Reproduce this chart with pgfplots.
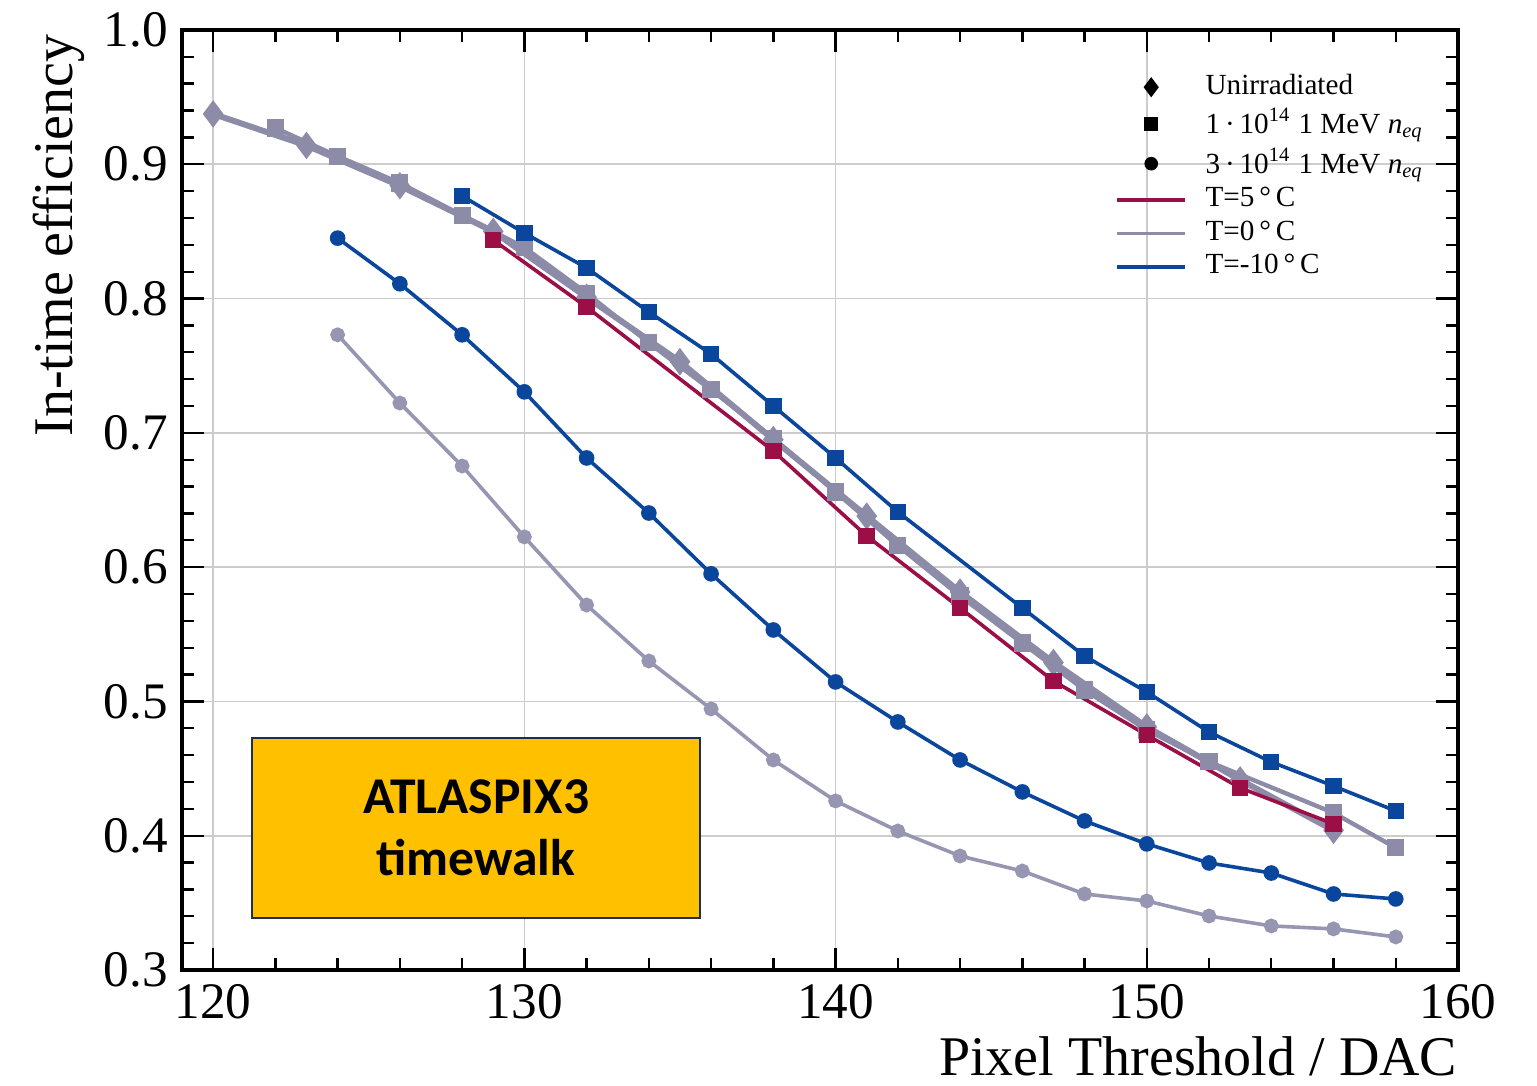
\documentclass[border=0pt]{standalone}
\usepackage{fontspec}
\setmainfont{Liberation Serif}
\newfontfamily\calibri{Carlito}
\usepackage{pgfplots}
\pgfplotsset{compat=1.18}

\definecolor{cred}{RGB}{155,15,70}
\definecolor{cgray}{RGB}{140,140,168}
\definecolor{clgray}{RGB}{150,150,178}
\definecolor{cblue}{RGB}{10,70,155}
\definecolor{boxfill}{RGB}{255,192,0}
\definecolor{boxline}{RGB}{31,45,80}

\begin{document}
\begin{tikzpicture}
\begin{axis}[
name=ax,
scale only axis,
width=319pt, height=235pt,
xmin=119, xmax=160,
ymin=0.3, ymax=1.0,
xtick={120,130,...,160},
ytick={0.3,0.4,...,1.0},
minor x tick num=4,
minor y tick num=4,
tick align=inside,
tick pos=both,
major tick length=5.5pt,
minor tick length=3pt,
every tick/.style={black, line width=0.6pt},
axis line style={black, line width=0.9pt},
grid=major,
major grid style={draw=black!20, line width=0.4pt},
tick label style={font=\fontsize{12.8}{14}\selectfont},
/pgf/number format/assume math mode=true,
yticklabel style={/pgf/number format/.cd, fixed, fixed zerofill, precision=1},
xticklabel style={/pgf/number format/.cd, fixed, precision=0},
legend cell align=left,
legend style={at={(rel axis cs:0.985,0.965)}, anchor=north east,
  draw=none, fill=none, font=\fontsize{7.3}{8}\selectfont,
  nodes={inner sep=0.6pt}, row sep=0.8pt,
  /tikz/every odd column/.append style={column sep=4pt}},
]
% legend entries
\addlegendimage{only marks, mark=diamond*, black, mark size=2.2pt}
\addlegendentry{Unirradiated}
\addlegendimage{only marks, mark=square*, black, mark size=1.5pt}
\addlegendentry{1\,·\,10\textsuperscript{14} 1 MeV \textit{n}\textsubscript{\textit{eq}}}
\addlegendimage{only marks, mark=*, black, mark size=1.5pt}
\addlegendentry{3\,·\,10\textsuperscript{14} 1 MeV \textit{n}\textsubscript{\textit{eq}}}
\addlegendimage{no markers, cred, line width=0.9pt}
\addlegendentry{T=5\,°\,C}
\addlegendimage{no markers, cgray, line width=0.9pt}
\addlegendentry{T=0\,°\,C}
\addlegendimage{no markers, cblue, line width=0.9pt}
\addlegendentry{T=-10\,°\,C}

% 3e14, T=0
\addplot[clgray, line width=0.9pt, mark=*, mark size=1.4pt, forget plot] coordinates {
(124,0.773) (126,0.7222) (128,0.6753) (130,0.6225) (132,0.5718) (134,0.5301)
(136,0.4944) (138,0.4564) (140,0.4259) (142,0.4035) (144,0.3849) (146,0.3737)
(148,0.3566) (150,0.3514) (152,0.3402) (154,0.3328) (156,0.3306) (158,0.3246)};
% 3e14, T=-10
\addplot[cblue, line width=0.9pt, mark=*, mark size=1.5pt, forget plot] coordinates {
(124,0.845) (126,0.811) (128,0.773) (130,0.7305) (132,0.6813) (134,0.6403)
(136,0.595) (138,0.5532) (140,0.5145) (142,0.4847) (144,0.4564) (146,0.4326)
(148,0.411) (150,0.3939) (152,0.3797) (154,0.3722) (156,0.3566) (158,0.3529)};
% unirradiated, T=0
\addplot[cgray, line width=1.5pt, mark=diamond*, mark size=2.2pt, forget plot] coordinates {
(120,0.9375) (123,0.914) (126,0.884) (129,0.850) (132,0.801) (135,0.753)
(138,0.695) (141,0.638) (144,0.5815) (147,0.529) (150,0.481) (153,0.4415) (156,0.404)};
% 1e14, T=0
\addplot[cgray, line width=1.1pt, mark=square*, mark size=1.6pt, forget plot] coordinates {
(122,0.927) (124,0.906) (126,0.886) (128,0.862) (130,0.838) (132,0.804)
(134,0.767) (136,0.732) (138,0.696) (140,0.656) (142,0.616) (144,0.5785)
(146,0.5435) (148,0.5085) (150,0.4787) (152,0.455) (156,0.417) (158,0.391)};
% 1e14, T=5
\addplot[cred, line width=0.9pt, mark=square*, mark size=1.6pt, forget plot] coordinates {
(129,0.8436) (132,0.7937) (138,0.6865) (141,0.6232) (144,0.5696) (147,0.5152)
(150,0.475) (153,0.4356) (156,0.4088)};
% 1e14, T=-10
\addplot[cblue, line width=0.9pt, mark=square*, mark size=1.6pt, forget plot] coordinates {
(128,0.8764) (130,0.8488) (132,0.8228) (134,0.790) (136,0.7587) (138,0.720)
(140,0.6813) (142,0.6411) (146,0.5696) (148,0.5338) (150,0.507) (152,0.4772)
(154,0.4549) (156,0.437) (158,0.4184)};

\node[draw=boxline, fill=boxfill, line width=0.6pt, minimum width=112pt,
  minimum height=45pt, align=center, inner sep=0pt,
  font=\calibri\bfseries\fontsize{12.9}{15.5}\selectfont]
  at (axis cs:128.45,0.4058) {ATLASPIX3\\timewalk};
\end{axis}
\node[anchor=north east, inner sep=0pt, font=\fontsize{14}{16}\selectfont]
  at ([yshift=-16.5pt]ax.south east) {Pixel Threshold / DAC};
\node[rotate=90, anchor=south east, inner sep=0pt, font=\fontsize{14}{16}\selectfont]
  at ([xshift=-24.25pt, yshift=-1pt]ax.north west) {In-time efficiency};
\pgfresetboundingbox
\path[use as bounding box] ([shift={(-45.5pt,-29pt)}]ax.south west) rectangle ([shift={(19.75pt,7.5pt)}]ax.north east);
\end{tikzpicture}
\end{document}
